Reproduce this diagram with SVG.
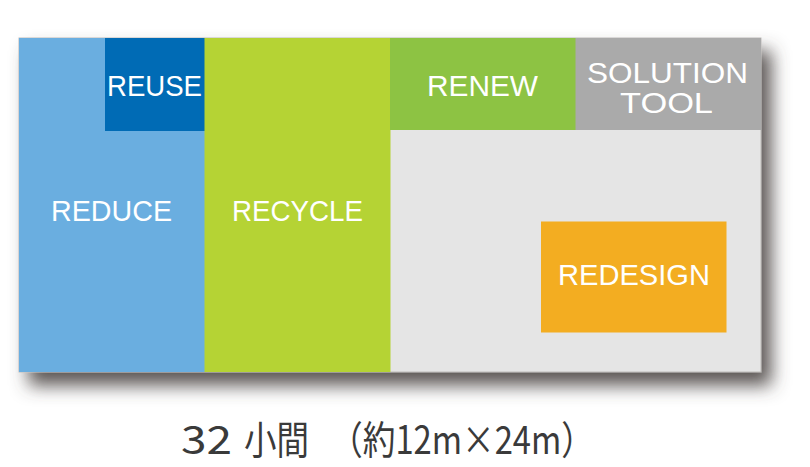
<svg xmlns="http://www.w3.org/2000/svg" width="810" height="467" viewBox="0 0 810 467">
<defs>
<filter id="shadow" x="-10%" y="-15%" width="130%" height="145%">
<feGaussianBlur in="SourceAlpha" stdDeviation="9"/>
<feOffset dx="10" dy="13" result="b"/>
<feFlood flood-color="#4a4442" flood-opacity="0.9"/>
<feComposite in2="b" operator="in"/>
<feMerge><feMergeNode/><feMergeNode in="SourceGraphic"/></feMerge>
</filter>
<style>
.lbl{font-family:"Liberation Sans","DejaVu Sans",sans-serif;font-size:30px;fill:#ffffff;}
.cap{font-family:"Noto Sans CJK JP","Noto Sans",sans-serif;font-size:39px;fill:#3a3a3a;}
</style>
</defs>
<rect width="810" height="467" fill="#ffffff"/>
<g id="board" filter="url(#shadow)">
<rect x="19" y="38" width="742" height="334" fill="#e5e5e5" stroke="#bdbab7" stroke-width="1"/>
</g>
<g id="reduce">
<rect x="19" y="38" width="186" height="334" fill="#6aaee0"/>
<text class="lbl" x="51" y="221" textLength="121" lengthAdjust="spacingAndGlyphs">REDUCE</text>
</g>
<g id="reuse">
<rect x="105" y="38" width="100" height="93" fill="#006bb5"/>
<text class="lbl" x="107" y="96" textLength="95" lengthAdjust="spacingAndGlyphs">REUSE</text>
</g>
<g id="recycle">
<rect x="204.5" y="38" width="186" height="334" fill="#b5d334"/>
<text class="lbl" x="232" y="221" textLength="131" lengthAdjust="spacingAndGlyphs">RECYCLE</text>
</g>
<g id="renew">
<rect x="390" y="38" width="186" height="92" fill="#8dc343"/>
<text class="lbl" x="427" y="96" textLength="111" lengthAdjust="spacingAndGlyphs">RENEW</text>
</g>
<g id="solution-tool">
<rect x="575.5" y="38" width="185.5" height="92" fill="#aaaaaa"/>
<text class="lbl" x="587" y="83" textLength="161" lengthAdjust="spacingAndGlyphs">SOLUTION</text>
<text class="lbl" x="620" y="113" textLength="93" lengthAdjust="spacingAndGlyphs">TOOL</text>
</g>
<g id="redesign">
<rect x="541" y="221.5" width="185.5" height="111" fill="#f3ad21"/>
<text class="lbl" x="558" y="285" textLength="152" lengthAdjust="spacingAndGlyphs">REDESIGN</text>
</g>
<g id="connectors"></g>
<g id="caption">
<text class="cap" x="181" y="454" textLength="51" lengthAdjust="spacingAndGlyphs">32</text>
<text class="cap" x="244" y="454" textLength="65" lengthAdjust="spacingAndGlyphs">小間</text>
<text class="cap" x="330" y="454" textLength="264" lengthAdjust="spacingAndGlyphs">（約12m×24m）</text>
</g>
</svg>
